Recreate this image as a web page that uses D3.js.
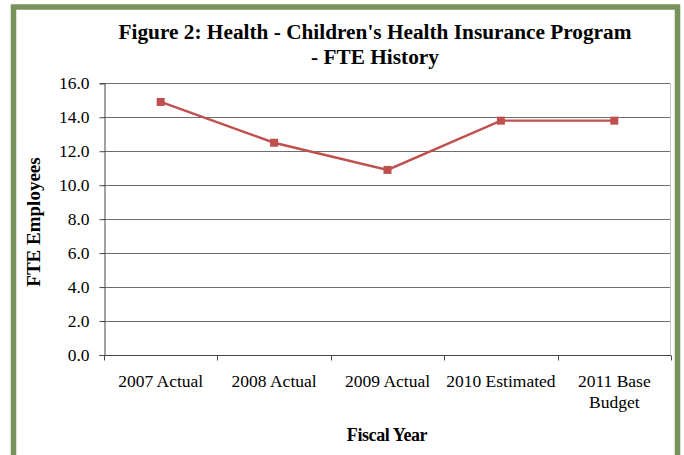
<!DOCTYPE html>
<html>
<head>
<meta charset="utf-8">
<script src="https://cdn.jsdelivr.net/npm/d3@7"></script>
<style>
  html, body { margin: 0; padding: 0; background: #fff; }
  svg { display: block; }
  text { font-family: "Liberation Serif", "Times New Roman", serif; fill: #000; }
</style>
</head>
<body>
<script>
// Fiscal years and full-time-equivalent staffing
const categories = ["2007 Actual", "2008 Actual", "2009 Actual", "2010 Estimated", "2011 Base Budget"];
const categoryLines = [["2007 Actual"], ["2008 Actual"], ["2009 Actual"], ["2010 Estimated"], ["2011 Base", "Budget"]];
const fteValues = [14.9, 12.5, 10.9, 13.8, 13.8];
const yTicks = [0, 2, 4, 6, 8, 10, 12, 14, 16];

const W = 684, H = 455;

const svg = d3.select("body").append("svg").attr("width", W).attr("height", H);

// Outer frame
svg.append("rect")
  .attr("x", 13.5).attr("y", 7)
  .attr("width", 664).attr("height", 460)
  .attr("fill", "none").attr("stroke", "#77935b").attr("stroke-width", 5.5);

const x = d3.scaleBand().domain(categories).range([104, 671]);
const y = d3.scaleLinear().domain([0, 16]).range([355, 83.3]);

// Plot-area right edge
svg.append("line")
  .attr("x1", 670.5).attr("x2", 670.5).attr("y1", y(16)).attr("y2", y(0))
  .attr("stroke", "#c8c8c8").attr("stroke-width", 1);

// Horizontal gridlines
svg.append("g").selectAll("line").data(yTicks.filter(d => d > 0)).join("line")
  .attr("x1", 104).attr("x2", 670)
  .attr("y1", d => Math.round(y(d)) + 0.5).attr("y2", d => Math.round(y(d)) + 0.5)
  .attr("stroke", "#6e6e6e").attr("stroke-width", 1);

// Y axis
const yAxis = svg.append("g").attr("transform", "translate(104.5,0)")
  .call(d3.axisLeft(y).tickValues(yTicks).tickFormat(d3.format(".1f")).tickSize(5).tickPadding(10));
yAxis.select(".domain").attr("stroke", "#444");
yAxis.selectAll(".tick line").attr("stroke", "#444");
yAxis.selectAll(".tick text")
  .attr("font-family", "Liberation Serif").attr("font-size", 17.5).attr("fill", "#000");

// X axis
const xAxis = svg.append("g").attr("transform", "translate(0,355.5)")
  .call(d3.axisBottom(x).tickSize(0).tickFormat(""));
xAxis.select(".domain").attr("stroke", "#444").attr("d", "M104,0H671");
// Category boundary ticks
const bounds = categories.map(c => x(c)).concat([x.range()[1]]);
xAxis.append("g").selectAll("line").data(bounds).join("line")
  .attr("x1", d => Math.round(d) + 0.5).attr("x2", d => Math.round(d) + 0.5)
  .attr("y1", 0).attr("y2", 5).attr("stroke", "#444");

// Category labels
svg.append("g").selectAll("text").data(categories).join("text")
  .attr("x", d => x(d) + x.bandwidth() / 2)
  .attr("y", 387)
  .attr("text-anchor", "middle")
  .attr("font-size", 17.5)
  .each(function(d, i) {
    const t = d3.select(this);
    categoryLines[i].forEach((ln, j) => {
      t.append("tspan").attr("x", x(d) + x.bandwidth() / 2).attr("dy", j === 0 ? 0 : 21).text(ln);
    });
  });

// Series line
const cx = d => x(d) + x.bandwidth() / 2;
svg.append("path")
  .datum(fteValues)
  .attr("fill", "none").attr("stroke", "#c0504d").attr("stroke-width", 2.4)
  .attr("d", d3.line().x((d, i) => cx(categories[i])).y(d => y(d)));

// Square markers
svg.append("g").selectAll("rect").data(fteValues).join("rect")
  .attr("x", (d, i) => cx(categories[i]) - 4)
  .attr("y", d => y(d) - 4)
  .attr("width", 8).attr("height", 8)
  .attr("fill", "#c0504d");

// Titles
const title = svg.append("text").attr("text-anchor", "middle")
  .attr("font-size", 21.3).attr("font-weight", "bold");
title.append("tspan").attr("x", 375).attr("y", 39).text("Figure 2: Health - Children's Health Insurance Program");
title.append("tspan").attr("x", 375).attr("y", 64).text("- FTE History");

svg.append("text")
  .attr("transform", "translate(40,222) rotate(-90)")
  .attr("text-anchor", "middle")
  .attr("font-size", 19).attr("font-weight", "bold")
  .text("FTE Employees");

svg.append("text")
  .attr("x", 387).attr("y", 441)
  .attr("text-anchor", "middle")
  .attr("font-size", 18).attr("font-weight", "bold")
  .attr("letter-spacing", -0.4)
  .text("Fiscal Year");
</script>
</body>
</html>
